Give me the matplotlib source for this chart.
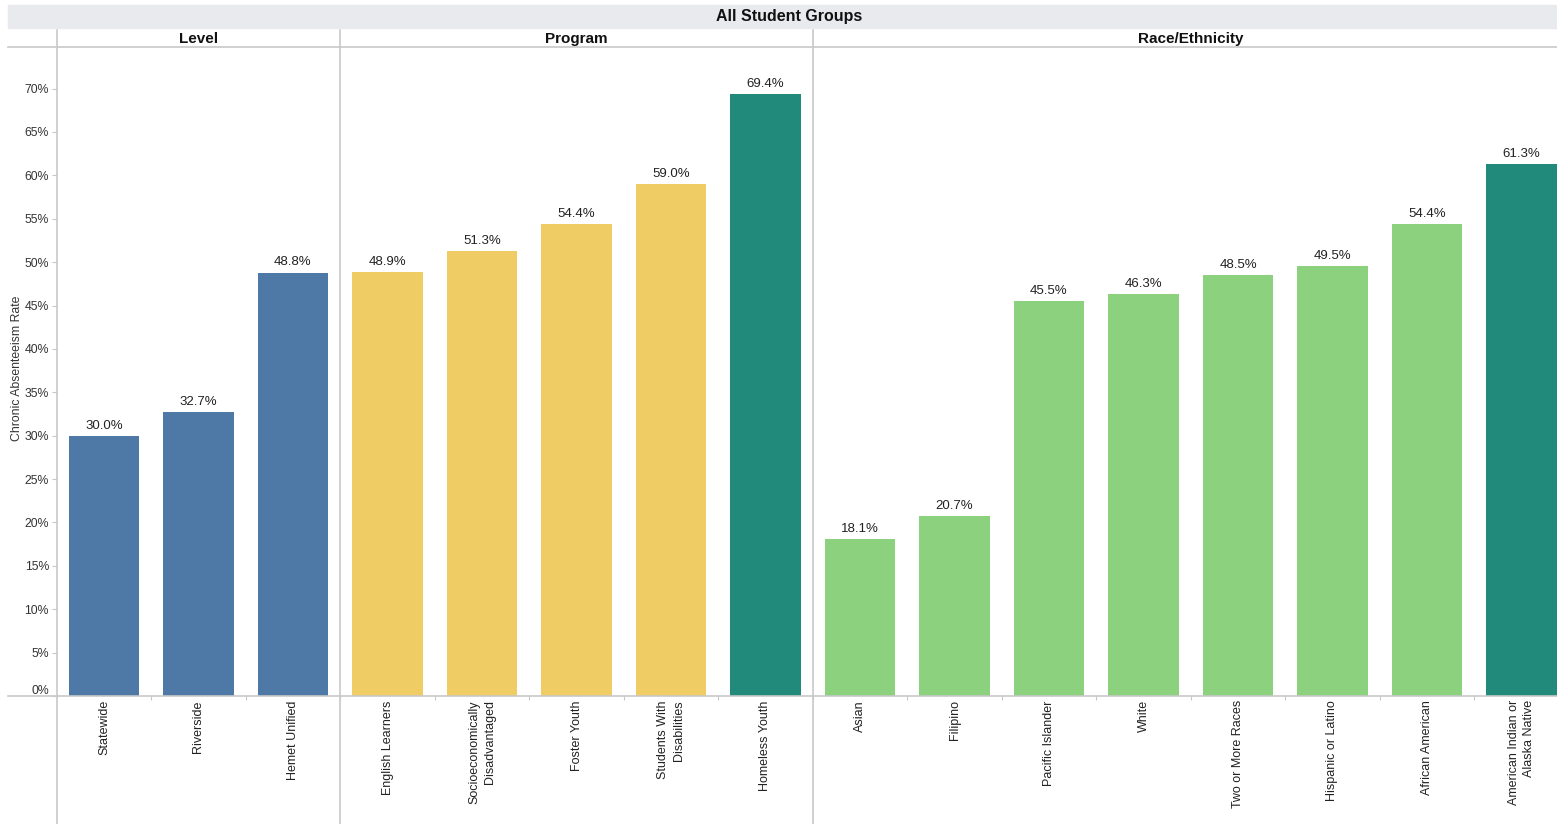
import matplotlib
matplotlib.use("Agg")
import matplotlib.pyplot as plt
from matplotlib.patches import Rectangle
from matplotlib.transforms import ScaledTranslation

plt.rcParams['font.family'] = ['Liberation Sans', 'DejaVu Sans']

# ---- data ----
level_cats = ["Statewide", "Riverside", "Hemet Unified"]
level_vals = [30.0, 32.7, 48.8]
program_cats = ["English Learners", "Socioeconomically\nDisadvantaged", "Foster Youth",
                "Students With\nDisabilities", "Homeless Youth"]
program_vals = [48.9, 51.3, 54.4, 59.0, 69.4]
race_cats = ["Asian", "Filipino", "Pacific Islander", "White", "Two or More Races",
             "Hispanic or Latino", "African American", "American Indian or\nAlaska Native"]
race_vals = [18.1, 20.7, 45.5, 46.3, 48.5, 49.5, 54.4, 61.3]
group_names = ["Level", "Program", "Race/Ethnicity"]
y_ticks = list(range(0, 75, 5))

BLUE = "#4E79A7"
YELLOW = "#F0CD64"
TEAL = "#228A7B"
GREEN = "#8CD17D"
level_colors = [BLUE] * 3
program_colors = [YELLOW] * 4 + [TEAL]
race_colors = [GREEN] * 7 + [TEAL]

cats = level_cats + program_cats + race_cats
vals = level_vals + program_vals + race_vals
colors = level_colors + program_colors + race_colors
group_sizes = [len(level_cats), len(program_cats), len(race_cats)]

# ---- layout (pixels) ----
W, H = 1557, 824
fig = plt.figure(figsize=(W / 100, H / 100), dpi=100)
ax_l, ax_r = 56.75, 56.75 + 1512
ax_top, ax_bot = 47, 696
ax = fig.add_axes([ax_l / W, 1 - ax_bot / H, (ax_r - ax_l) / W, (ax_bot - ax_top) / H])

px_per_pct = 8.677
ax.set_ylim(0, (ax_bot - ax_top) / px_per_pct)
ax.set_xlim(-0.5, len(cats) - 0.5)

LINE = "#C8C8C8"
x = list(range(len(cats)))
ax.bar(x, vals, width=0.75, color=colors, zorder=2)
for xi, v in zip(x, vals):
    ax.annotate(f"{v:.1f}%", (xi, v), xytext=(0, 3), textcoords="offset points",
                ha="center", va="bottom", fontsize=9.5, color="#222222")

for s in ax.spines.values():
    s.set_visible(False)

# y axis
ax.set_yticks(y_ticks)
ax.set_yticklabels([f"{t}%" for t in y_ticks])
ax.tick_params(axis="y", length=3.5, width=0.8, color=LINE, labelsize=8.8,
               labelcolor="#333333", pad=2)
# nudge the 0% label up, as in the reference
lbl0 = ax.get_yticklabels()[0]
lbl0.set_transform(lbl0.get_transform() + ScaledTranslation(0, 6 / 100, fig.dpi_scale_trans))

# x axis
ax.set_xticks(x)
ax.set_xticklabels(cats, rotation=90, va="top", ha="center", multialignment="right",
                   linespacing=1.35)
ax.tick_params(axis="x", length=0, labelsize=9, labelcolor="#222222", pad=3)
ax.set_xticks([i + 0.5 for i in range(len(cats) - 1)], minor=True)
ax.tick_params(axis="x", which="minor", length=3, width=0.8, color=LINE, direction="out")

# frame lines
y_low = (ax_bot - H) / (ax_bot - ax_top)
y_high = (ax_bot - 30) / (ax_bot - ax_top)
x_left = (8 - ax_l) / (ax_r - ax_l)
ax.axhline(0, xmin=x_left, xmax=1, color=LINE, lw=1.2, clip_on=False, zorder=3)
ax.axhline(ax.get_ylim()[1], xmin=x_left, xmax=1, color=LINE, lw=1.2, clip_on=False, zorder=3)
bounds = [-0.5]
acc = -0.5
for g in group_sizes[:-1]:
    acc += g
    bounds.append(acc)
for b in bounds:
    ax.axvline(b, ymin=y_low, ymax=y_high, color=LINE, lw=1.2, clip_on=False, zorder=3)

# group headers
start = 0
for name, g in zip(group_names, group_sizes):
    center = start + (g - 1) / 2
    ax.text(center, (ax_bot - 39.5) / (ax_bot - ax_top), name,
            transform=ax.get_xaxis_transform(), ha="center", va="center",
            fontsize=11, fontweight="bold", color="#111111")
    start += g

# title bar
fig.patches.append(Rectangle((8 / W, 1 - 28 / H), (W - 8) / W, 23 / H,
                             transform=fig.transFigure, color="#E9EAEE", zorder=0))
fig.text(789 / W, 1 - 16 / H, "All Student Groups", ha="center", va="center",
         fontsize=11.5, fontweight="bold", color="#111111")

# y label
fig.text(17 / W, 1 - 368 / H, "Chronic Absenteeism Rate", rotation=90,
         ha="center", va="center", fontsize=8.8, color="#333333")

fig.savefig("out.png", dpi=100)
